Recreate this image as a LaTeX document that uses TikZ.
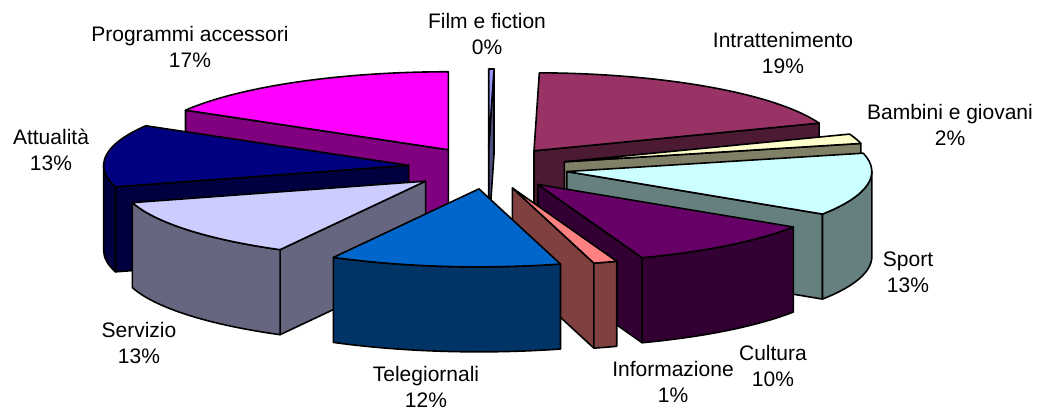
\documentclass[tikz,border=0pt]{standalone}
\usepackage{fontspec}
\setmainfont{Liberation Sans}
\usetikzlibrary{calc}
\definecolor{filmT}{HTML}{9999FF}\definecolor{filmS}{HTML}{4D4D80}
\definecolor{intT}{HTML}{993366}\definecolor{intS}{HTML}{4D1A33}
\definecolor{bamT}{HTML}{FFFFCC}\definecolor{bamS}{HTML}{808066}
\definecolor{spoT}{HTML}{CCFFFF}\definecolor{spoS}{HTML}{668080}
\definecolor{culT}{HTML}{660066}\definecolor{culS}{HTML}{330033}
\definecolor{infT}{HTML}{FF8080}\definecolor{infS}{HTML}{804040}
\definecolor{telT}{HTML}{0066CC}\definecolor{telS}{HTML}{003366}
\definecolor{serT}{HTML}{CCCCFF}\definecolor{serS}{HTML}{666680}
\definecolor{attT}{HTML}{000080}\definecolor{attS}{HTML}{000040}
\definecolor{proT}{HTML}{FF00FF}\definecolor{proS}{HTML}{800080}
\def\cx{488}\def\cy{249}\def\ex{80}\def\ey{21}
\def\rx{305}\def\ry{78}\def\h{85}
\newcommand\pieslice[4]{%
  \pgfmathsetmacro\aA{90-(#2)}%
  \pgfmathsetmacro\aB{90-(#1)}%
  \pgfmathsetmacro\bis{(\aA+\aB)/2}%
  \pgfmathsetmacro\px{\cx+\ex*cos(\bis)}%
  \pgfmathsetmacro\py{\cy+\ey*sin(\bis)}%
  \pgfmathsetmacro\qAx{\px+\rx*cos(\aA)}%
  \pgfmathsetmacro\qAy{\py+\ry*sin(\aA)}%
  \pgfmathsetmacro\qBx{\px+\rx*cos(\aB)}%
  \pgfmathsetmacro\qBy{\py+\ry*sin(\aB)}%
  \coordinate (P) at (\px,\py);
  \coordinate (Pb) at (\px,\py-\h);
  \coordinate (QA) at (\qAx,\qAy);
  \coordinate (QB) at (\qBx,\qBy);
  \pgfmathtruncatemacro\vA{cos(\aA)>0.0001 ? 1 : 0}%
  \ifnum\vA=1
    \draw[pieline, fill=#4] (P) -- (QA) -- ++(0,-\h) -- (Pb) -- cycle;
  \fi
  \pgfmathtruncatemacro\vB{cos(\aB)<-0.0001 ? 1 : 0}%
  \ifnum\vB=1
    \draw[pieline, fill=#4] (P) -- (QB) -- ++(0,-\h) -- (Pb) -- cycle;
  \fi
  \pgfmathsetmacro\wA{max(\aA,-180)}%
  \pgfmathsetmacro\wB{min(\aB,0)}%
  \pgfmathtruncatemacro\vW{\wB>\wA ? 1 : 0}%
  \ifnum\vW=1
    \pgfmathsetmacro\wx{\px+\rx*cos(\wA)}%
    \pgfmathsetmacro\wy{\py+\ry*sin(\wA)}%
    \coordinate (W) at (\wx,\wy);
    \draw[pieline, fill=#4] (W)
      arc[start angle=\wA, end angle=\wB, x radius=\rx, y radius=\ry]
      -- ++(0,-\h)
      arc[start angle=\wB, end angle=\wA, x radius=\rx, y radius=\ry] -- cycle;
  \fi
  \draw[pieline, fill=#3] (P) -- (QA)
    arc[start angle=\aA, end angle=\aB, x radius=\rx, y radius=\ry] -- cycle;
}
\begin{document}
\begin{tikzpicture}[x=1pt,y=1pt,
  pieline/.style={draw=black, line width=1.6pt, line join=round},
  lbl/.style={font=\fontsize{21}{26}\selectfont, align=center, inner sep=0pt}]
\useasboundingbox (0,0) rectangle (1050,417);
% back to front
\pieslice{0}{1}{filmT}{filmS}
\pieslice{300.5}{360}{proT}{proS}
\pieslice{1}{69.21}{intT}{intS}
\pieslice{69.21}{76.39}{bamT}{bamS}
\pieslice{254}{300.5}{attT}{attS}
\pieslice{76.39}{123.06}{spoT}{spoS}
\pieslice{208.5}{254}{serT}{serS}
\pieslice{123.06}{160}{culT}{culS}
\pieslice{160}{164.5}{infT}{infS}
\pieslice{164.5}{208.5}{telT}{telS}
% labels
\node[lbl] (film) at (487,383) {Film e fiction\\0\%};
\node[lbl] (prog) at (190,370.5) {Programmi accessori\\17\%};
\node[lbl] (intr) at (783,364) {Intrattenimento\\19\%};
\node[lbl] (bamb) at (950,292) {Bambini e giovani\\2\%};
\node[lbl] (attu) at (51,267) {Attualità\\13\%};
\node[lbl] (serv) at (139,74) {Servizio\\13\%};
\node[lbl] (tele) at (426,30) {Telegiornali\\12\%};
\node[lbl] (info) at (673,35) {Informazione\\1\%};
\node[lbl] (cult) at (773,51) {Cultura\\10\%};
\node[lbl] (spor) at (908,145) {Sport\\13\%};
\end{tikzpicture}
\end{document}
